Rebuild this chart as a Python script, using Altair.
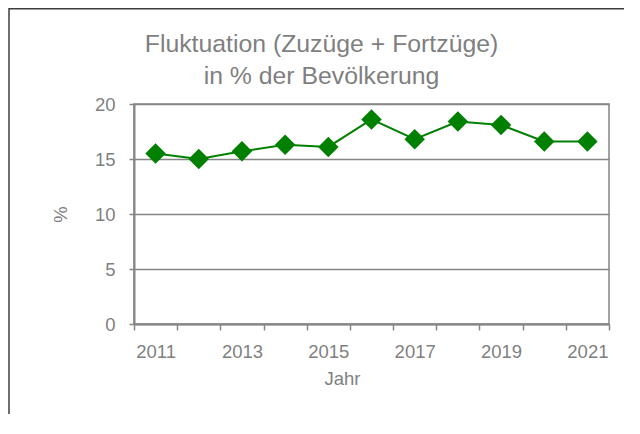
import altair as alt
import pandas as pd

# ---- data ----
years = [2011, 2012, 2013, 2014, 2015, 2016, 2017, 2018, 2019, 2020, 2021]
values = [15.5, 15.0, 15.7, 16.3, 16.1, 18.6, 16.8, 18.4, 18.1, 16.6, 16.6]
x_tick_positions = [2010.5 + i for i in range(12)]   # category boundaries
y_ticks = [0, 5, 10, 15, 20]
title_lines = ["Fluktuation (Zuzüge + Fortzüge)", "in % der Bevölkerung"]
x_title = "Jahr"
y_title = "%"

df = pd.DataFrame({"Jahr": years, "Wert": values})
frame_df = pd.DataFrame({"k": [0]})

GRAY = "#858585"
TEXT = "#7f7f7f"
GREEN = "#008000"
FONT = "Liberation Sans"

W, H = 475, 220
band = W / len(years)

x_enc = alt.X(
    "Jahr:Q",
    scale=alt.Scale(domain=[2010.5, 2021.5], nice=False, zero=False),
    axis=alt.Axis(
        values=x_tick_positions,
        labelExpr="(datum.value - 2010.5) % 2 == 0 ? toString(datum.value + 0.5) : ''",
        labelOffset=band / 2,
        labelFlush=False,
        labelOverlap=False,
        grid=False,
        tickSize=6,
        labelPadding=12,
        title=x_title,
        titleX=208,
        titleY=60,
        titleBaseline="alphabetic",
    ),
)
y_enc = alt.Y(
    "Wert:Q",
    scale=alt.Scale(domain=[0, 20], nice=False),
    axis=alt.Axis(
        values=y_ticks,
        grid=True,
        tickSize=5,
        labelPadding=14,
        title=y_title,
        titlePadding=24,
    ),
)

base = alt.Chart(df).encode(x=x_enc, y=y_enc)
line = base.mark_line(color=GREEN, strokeWidth=2)
pts = base.mark_point(shape="diamond", filled=True, size=420, color=GREEN, opacity=1)

left_border = alt.Chart(frame_df).mark_rule(color="#3c3c3c", strokeWidth=1.5).encode(
    x=alt.value(-125), y=alt.value(-96), y2=alt.value(330)
)
top_border = alt.Chart(frame_df).mark_rule(color="#3c3c3c", strokeWidth=1.5).encode(
    x=alt.value(-125), x2=alt.value(500), y=alt.value(-95.2)
)

chart = (
    alt.layer(line, pts, left_border, top_border)
    .properties(
        width=W,
        height=H,
        autosize=alt.AutoSizeParams(type="none"),
        padding={"left": 126, "top": 96, "right": 15, "bottom": 90},
        background="white",
        title=alt.TitleParams(
            text=title_lines,
            font=FONT,
            fontSize=24.8,
            fontWeight="normal",
            color=TEXT,
            anchor="middle",
            orient="top",
            baseline="alphabetic",
            dx=-50,
            dy=102,
            offset=0,
            lineHeight=32,
        ),
    )
    .configure_view(stroke=GRAY, strokeWidth=1.5)
    .configure_axis(
        domainColor=GRAY,
        domainWidth=2,
        tickColor=GRAY,
        tickWidth=1.5,
        gridColor=GRAY,
        gridWidth=1.6,
        gridOpacity=1,
        labelColor=TEXT,
        labelFont=FONT,
        labelFontSize=18.5,
        titleColor=TEXT,
        titleFont=FONT,
        titleFontSize=18.5,
        titleFontWeight="normal",
    )
)

chart.save("out.html", embed_options={"renderer": "svg", "actions": False})
